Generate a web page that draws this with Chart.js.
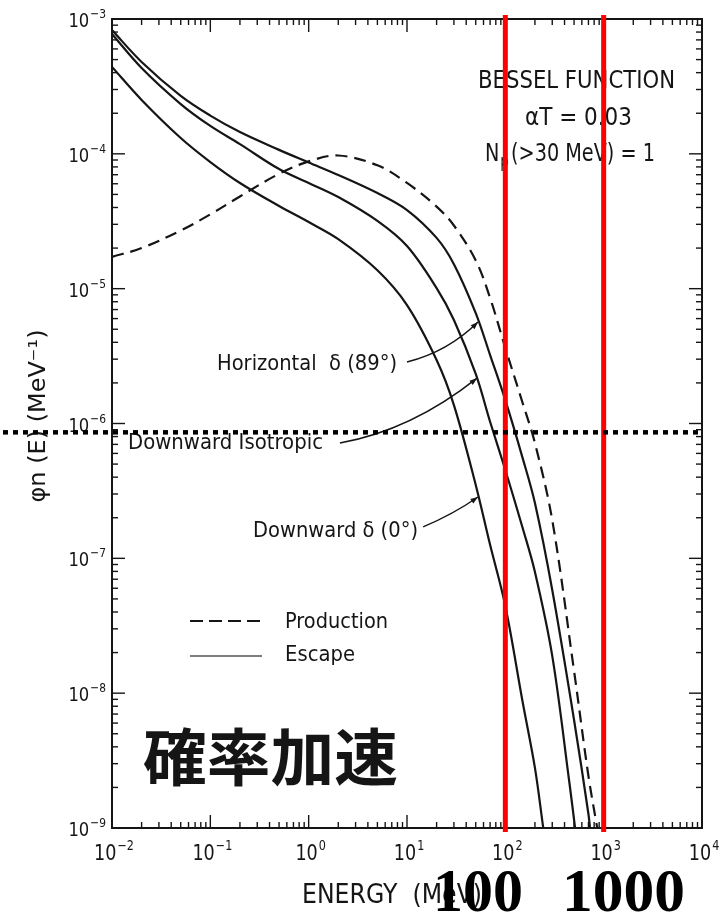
<!DOCTYPE html>
<html>
<head>
<meta charset="utf-8">
<script src="https://cdn.jsdelivr.net/npm/chart.js@4/dist/chart.umd.min.js"></script>
<style>
  html, body { margin: 0; padding: 0; background: #ffffff; }
  canvas { display: block; }
</style>
</head>
<body>
<canvas id="spectra" width="720" height="915"></canvas>
<script>
// Neutron spectra φn(E) in MeV^-1 versus neutron energy E in MeV.
const productionEnergy = [0.01, 0.02, 0.05, 0.1, 0.2, 0.5, 1, 2, 5, 10, 20, 30, 50, 70, 100, 150, 200, 300, 500, 700, 860];
const productionFlux   = [1.72e-5, 2.00e-5, 2.70e-5, 3.56e-5, 4.83e-5, 7.11e-5, 8.79e-5, 9.72e-5, 8.22e-5, 6.08e-5, 4.06e-5, 2.94e-5, 1.62e-5, 8.53e-6, 3.63e-6, 1.42e-6, 7.16e-7, 1.92e-7, 1.46e-8, 2.43e-9, 1.0e-9];

const horizontalEnergy = [0.01, 0.02, 0.05, 0.1, 0.2, 0.5, 1, 2, 5, 10, 20, 30, 50, 70, 100, 150, 200, 300, 500, 700, 726];
const horizontalFlux   = [8.28e-4, 4.80e-4, 2.69e-4, 1.92e-4, 1.45e-4, 1.07e-4, 8.63e-5, 6.97e-5, 5.12e-5, 3.83e-5, 2.38e-5, 1.52e-5, 6.59e-6, 3.22e-6, 1.49e-6, 5.54e-7, 2.57e-7, 5.82e-8, 6.32e-9, 1.27e-9, 1.0e-9];

const isotropicEnergy = [0.01, 0.02, 0.05, 0.1, 0.2, 0.5, 1, 2, 5, 10, 20, 30, 50, 70, 100, 150, 200, 300, 450, 512];
const isotropicFlux   = [7.74e-4, 4.33e-4, 2.34e-4, 1.61e-4, 1.18e-4, 7.71e-5, 6.08e-5, 4.78e-5, 3.18e-5, 2.07e-5, 1.01e-5, 5.86e-6, 2.33e-6, 1.03e-6, 4.52e-7, 1.68e-7, 7.92e-8, 1.89e-8, 2.12e-9, 1.0e-9];

const downwardEnergy = [0.01, 0.02, 0.05, 0.1, 0.2, 0.5, 1, 2, 5, 10, 20, 30, 50, 70, 100, 150, 200, 243];
const downwardFlux   = [4.41e-4, 2.51e-4, 1.31e-4, 8.69e-5, 6.08e-5, 4.10e-5, 3.12e-5, 2.33e-5, 1.37e-5, 7.56e-6, 2.96e-6, 1.37e-6, 3.50e-7, 1.26e-7, 4.43e-8, 8.59e-9, 2.79e-9, 1.0e-9];

// Axis decades (powers of ten) and the minor multipliers between them
const xDecades = [-2, -1, 0, 1, 2, 3, 4];
const yDecades = [-9, -8, -7, -6, -5, -4, -3];
const minorSteps = [2, 3, 4, 5, 6, 7, 8, 9];

// Reference energies marked in red, and their labels
const markerEnergies = [100, 1000];
const markerLabels = ['100', '1000'];
// Horizontal reference level (MeV^-1)
const referenceFlux = 8.6e-7;

// Leader arrows: [start, control, tip] as [E (MeV), φn (MeV^-1)]
const leaderHorizontal = [[10.0, 2.86e-6], [25.8, 3.39e-6], [52.7, 5.66e-6]];
const leaderIsotropic  = [[2.08, 7.16e-7], [11.2, 8.95e-7], [51.5, 2.17e-6]];
const leaderDownward   = [[14.6, 1.71e-7], [29.7, 2.13e-7], [52.7, 2.85e-7]];

const INK = '#151515';
const LETTER = '"DejaVu Sans", "Liberation Sans", sans-serif';

function tickValues(decades) {
  const out = [];
  const last = decades[decades.length - 1];
  decades.forEach(d => {
    out.push(Number(Math.pow(10, d).toPrecision(12)));
    if (d < last) minorSteps.forEach(m => out.push(Number((m * Math.pow(10, d)).toPrecision(12))));
  });
  return out;
}
function isDecade(v) {
  const l = Math.log10(v);
  return Math.abs(l - Math.round(l)) < 1e-9;
}
function series(energy, flux) {
  return energy.map((e, i) => ({ x: e, y: flux[i] }));
}

// Text helpers: draws text squeezed horizontally to a target width
function measure(c, s, size, weight, family) {
  c.font = `${weight || 'normal'} ${size}px ${family || LETTER}`;
  return c.measureText(s).width;
}
function fitText(c, s, x, y, size, width, opts) {
  opts = opts || {};
  const w = measure(c, s, size, opts.weight, opts.family);
  const sx = width ? width / w : (opts.sx || 1);
  c.save();
  c.fillStyle = opts.color || INK;
  c.textBaseline = opts.baseline || 'alphabetic';
  c.textAlign = 'left';
  c.translate(x, y);
  if (opts.rotate) c.rotate(opts.rotate);
  c.scale(sx, 1);
  c.fillText(s, opts.center ? -w / 2 : 0, 0);
  c.restore();
  return w * sx;
}
function powerLabel(c, exp, x, baseY, baseSize, expSize, sx, align) {
  const e = exp < 0 ? '\u2212' + (-exp) : String(exp);
  const wb = measure(c, '10', baseSize) * sx;
  const we = measure(c, e, expSize) * sx;
  const total = wb + 1 + we;
  const x0 = align === 'right' ? x - total : x - total / 2;
  fitText(c, '10', x0, baseY, baseSize, 0, { sx: sx });
  fitText(c, e, x0 + wb + 1, baseY - baseSize * 0.45, expSize, 0, { sx: sx });
}
function seg(c, x1, y1, x2, y2) {
  c.beginPath(); c.moveTo(x1, y1); c.lineTo(x2, y2); c.stroke();
}

const decorations = {
  id: 'decorations',
  afterDatasetsDraw(chart) {
    const c = chart.ctx;
    const xs = chart.scales.x, ys = chart.scales.y;
    const a = chart.chartArea;
    const P = (p) => [xs.getPixelForValue(p[0]), ys.getPixelForValue(p[1])];
    c.save();

    // Frame
    c.strokeStyle = INK;
    c.lineWidth = 2;
    c.strokeRect(a.left, a.top, a.right - a.left, a.bottom - a.top);

    // Inward ticks on all four sides
    c.lineWidth = 1.4;
    xs.ticks.forEach(t => {
      const px = xs.getPixelForValue(t.value);
      const L = isDecade(t.value) ? 13 : 6;
      seg(c, px, a.bottom, px, a.bottom - L);
      seg(c, px, a.top, px, a.top + L);
    });
    ys.ticks.forEach(t => {
      const py = ys.getPixelForValue(t.value);
      const L = isDecade(t.value) ? 13 : 6;
      seg(c, a.left, py, a.left + L, py);
      seg(c, a.right, py, a.right - L, py);
    });

    // Decade labels
    xDecades.forEach(d => {
      const px = xs.getPixelForValue(Math.pow(10, d));
      powerLabel(c, d, px + 2, a.bottom + 32, 22, 14, 0.8, 'center');
    });
    yDecades.forEach(d => {
      const py = ys.getPixelForValue(Math.pow(10, d));
      powerLabel(c, d, a.left - 6, py + 8, 20, 13, 0.82, 'right');
    });

    // Axis titles
    fitText(c, 'ENERGY  (MeV)', 302, 903, 26, 180);
    fitText(c, '\u03c6n (E) (MeV\u207b\u00b9)', 45, 416, 23, 173, { rotate: -Math.PI / 2, center: true });

    // Parameter block
    fitText(c, 'BESSEL FUNCTION', 478, 88, 24, 197);
    fitText(c, '\u03b1T = 0.03', 525, 125, 24, 107);
    {
      const sx = 0.8;
      let x = 485;
      x += fitText(c, 'N', x, 161, 24, 0, { sx: sx });
      x += fitText(c, 'p', x + 1, 167, 17, 0, { sx: sx }) + 3;
      fitText(c, '(>30 MeV) = 1', x, 161, 24, 655 - x);
    }

    // Curve labels with leader arrows
    fitText(c, 'Horizontal  \u03b4 (89\u00b0)', 217, 370, 21, 180);
    fitText(c, 'Downward Isotropic', 128, 449, 21, 195);
    fitText(c, 'Downward \u03b4 (0\u00b0)', 253, 537, 21, 165);
    c.lineWidth = 1.5;
    c.strokeStyle = INK;
    c.fillStyle = INK;
    [leaderHorizontal, leaderIsotropic, leaderDownward].forEach(L => {
      const p0 = P(L[0]), p1 = P(L[1]), p2 = P(L[2]);
      c.beginPath();
      c.moveTo(p0[0], p0[1]);
      c.quadraticCurveTo(p1[0], p1[1], p2[0], p2[1]);
      c.stroke();
      const ang = Math.atan2(p2[1] - p1[1], p2[0] - p1[0]);
      const s = 8;
      c.beginPath();
      c.moveTo(p2[0], p2[1]);
      c.lineTo(p2[0] - s * Math.cos(ang - 0.35), p2[1] - s * Math.sin(ang - 0.35));
      c.lineTo(p2[0] - s * Math.cos(ang + 0.35), p2[1] - s * Math.sin(ang + 0.35));
      c.closePath();
      c.fill();
    });

    // Key
    c.lineWidth = 2;
    c.setLineDash([13, 6]);
    seg(c, 190, 621, 262, 621);
    c.setLineDash([]);
    c.lineWidth = 1.6;
    c.strokeStyle = '#555';
    seg(c, 190, 656, 262, 656);
    fitText(c, 'Production', 285, 628, 21, 103);
    fitText(c, 'Escape', 285, 661, 21, 70);

    // Red energy markers
    c.strokeStyle = '#ff0000';
    c.lineWidth = 5;
    markerEnergies.forEach(e => {
      const px = xs.getPixelForValue(e);
      seg(c, px, a.top - 4, px, a.bottom + 4);
    });

    // Dotted reference level
    c.strokeStyle = '#000';
    c.lineWidth = 4.5;
    c.setLineDash([5, 5]);
    const ry = ys.getPixelForValue(referenceFlux);
    seg(c, 3, ry, a.right - 2, ry);
    c.setLineDash([]);

    // Overlay captions
    fitText(c, '確率加速', 143, 757, 62, 255, { weight: 'bold', family: '"Noto Sans CJK JP", sans-serif', baseline: 'middle' });
    fitText(c, markerLabels[0], 433, 911, 62, 90, { weight: 'bold', family: '"Liberation Serif", "DejaVu Serif", serif', color: '#000' });
    fitText(c, markerLabels[1], 562, 911, 62, 123, { weight: 'bold', family: '"Liberation Serif", "DejaVu Serif", serif', color: '#000' });

    c.restore();
  }
};

const line = (energy, flux, dashed) => ({
  data: series(energy, flux),
  borderColor: INK,
  borderWidth: 2.2,
  borderDash: dashed ? [12, 7] : [],
  pointRadius: 0,
  fill: false,
  tension: 0.35
});

new Chart(document.getElementById('spectra'), {
  type: 'line',
  data: {
    datasets: [
      line(productionEnergy, productionFlux, true),
      line(horizontalEnergy, horizontalFlux, false),
      line(isotropicEnergy, isotropicFlux, false),
      line(downwardEnergy, downwardFlux, false)
    ]
  },
  options: {
    responsive: false,
    animation: false,
    devicePixelRatio: 1,
    layout: { padding: { top: 19, right: 18, left: 0, bottom: 0 } },
    plugins: { legend: { display: false }, tooltip: { enabled: false } },
    scales: {
      x: {
        type: 'logarithmic',
        min: Math.pow(10, xDecades[0]),
        max: Math.pow(10, xDecades[xDecades.length - 1]),
        grid: { display: false },
        border: { display: false },
        ticks: { display: false },
        afterBuildTicks(s) { s.ticks = tickValues(xDecades).map(v => ({ value: v })); },
        afterFit(s) { s.height = 87; }
      },
      y: {
        type: 'logarithmic',
        min: Math.pow(10, yDecades[0]),
        max: Math.pow(10, yDecades[yDecades.length - 1]),
        grid: { display: false },
        border: { display: false },
        ticks: { display: false },
        afterBuildTicks(s) { s.ticks = tickValues(yDecades).map(v => ({ value: v })); },
        afterFit(s) { s.width = 112; }
      }
    }
  },
  plugins: [decorations]
});
</script>
</body>
</html>
